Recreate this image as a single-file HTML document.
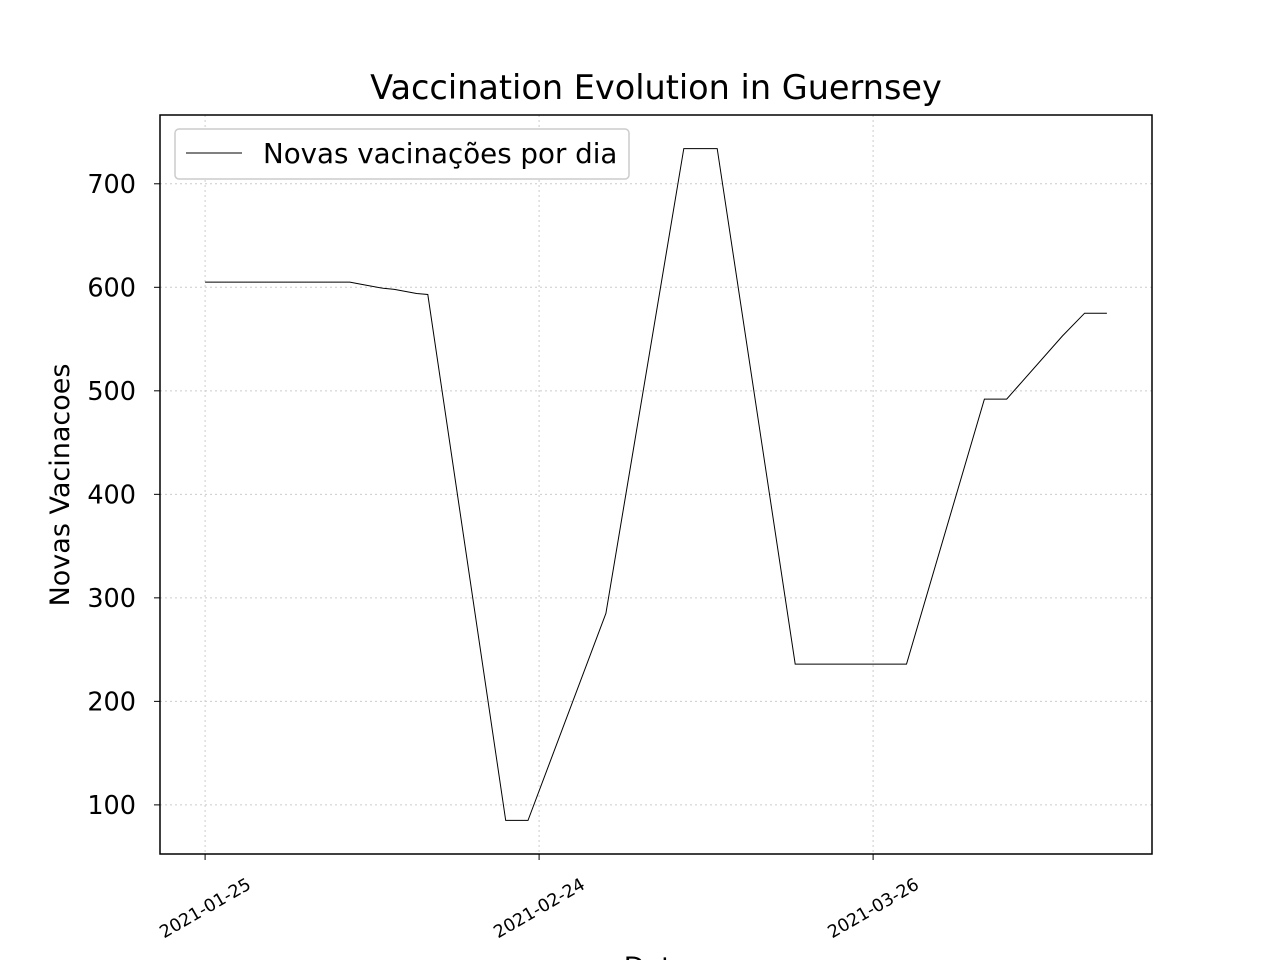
<!DOCTYPE html>
<html><head><meta charset="utf-8"><style>
body{margin:0;background:#fff;overflow:hidden;}
svg{display:block;font-family:"DejaVu Sans","Liberation Sans",sans-serif;}
</style></head><body>
<svg id="chart" width="1280" height="960" viewBox="0 0 1280 960">
<text x="656" y="99" font-size="33.5" text-anchor="middle">Vaccination Evolution in Guernsey</text>
<g id="grid"></g>
<g id="ticks"></g>
<path id="line" fill="none" stroke="#000" stroke-width="1"/>
<rect x="160" y="115" width="992" height="739" fill="none" stroke="#000" stroke-width="1.5"/>
<text x="69" y="485" font-size="27" text-anchor="middle" transform="rotate(-90 69 485)">Novas Vacinacoes</text>
<text x="656" y="976" font-size="27" text-anchor="middle">Data</text>
<g>
<rect x="175" y="129" width="454" height="50" rx="4" fill="#fff" stroke="#ccc" stroke-width="1.5"/>
<line x1="186" y1="153" x2="242" y2="153" stroke="#000" stroke-width="1"/>
<text x="263" y="163" font-size="27.7">Novas vacinações por dia</text>
</g>
</svg>
<script>
const days = [0,13,14,16,17,19,20,27,29,36,43,46,53,63,70,72,77,79,81];
const values = [605,605,603,599,598,594,593,85,85,285,734,734,236,236,492,492,553,575,575];
const yTicks = [100,200,300,400,500,600,700];
const xTickDays = [0,30,60];
const xTickLabels = ["2021-01-25","2021-02-24","2021-03-26"];
const X0=160,X1=1152,Y0=854,Y1=115,dMin=-4.05,dMax=85.05,vMin=52.55,vMax=766.45;
const xs=d=>X0+(d-dMin)/(dMax-dMin)*(X1-X0);
const ys=v=>Y0-(v-vMin)/(vMax-vMin)*(Y0-Y1);
const NS="http://www.w3.org/2000/svg";
const grid=document.getElementById('grid'),ticks=document.getElementById('ticks');
function mk(tag,attrs,parent){const e=document.createElementNS(NS,tag);for(const k in attrs)e.setAttribute(k,attrs[k]);parent.appendChild(e);return e;}
yTicks.forEach(v=>{const y=ys(v);
const g=mk('line',{x1:X0,x2:X1,y1:y,y2:y,stroke:'#ccc','stroke-dasharray':'2,3'},grid);


const t=mk('line',{x1:X0-6,x2:X0,y1:y,y2:y,stroke:'#000'},ticks);


const l=mk('text',{x:X0-24,y:y+9,'font-size':25.5,'text-anchor':'end'},ticks);l.textContent=v;


});
xTickDays.forEach((d,i)=>{const x=xs(d);
const g=mk('line',{x1:x,x2:x,y1:Y1,y2:Y0,stroke:'#ccc','stroke-dasharray':'2,3'},grid);


const t=mk('line',{x1:x,x2:x,y1:Y0,y2:Y0+6,stroke:'#000'},ticks);


const cy=Y0+54;
const l=mk('text',{x:x,y:cy+6,'font-size':17.5,'text-anchor':'middle',transform:`rotate(-30 ${x} ${cy})`},ticks);l.textContent=xTickLabels[i];


});
document.getElementById('line').setAttribute('d',days.map((d,i)=>(i?'L':'M')+xs(d).toFixed(1)+','+ys(values[i]).toFixed(1)).join(''));
</script>
</body></html>
